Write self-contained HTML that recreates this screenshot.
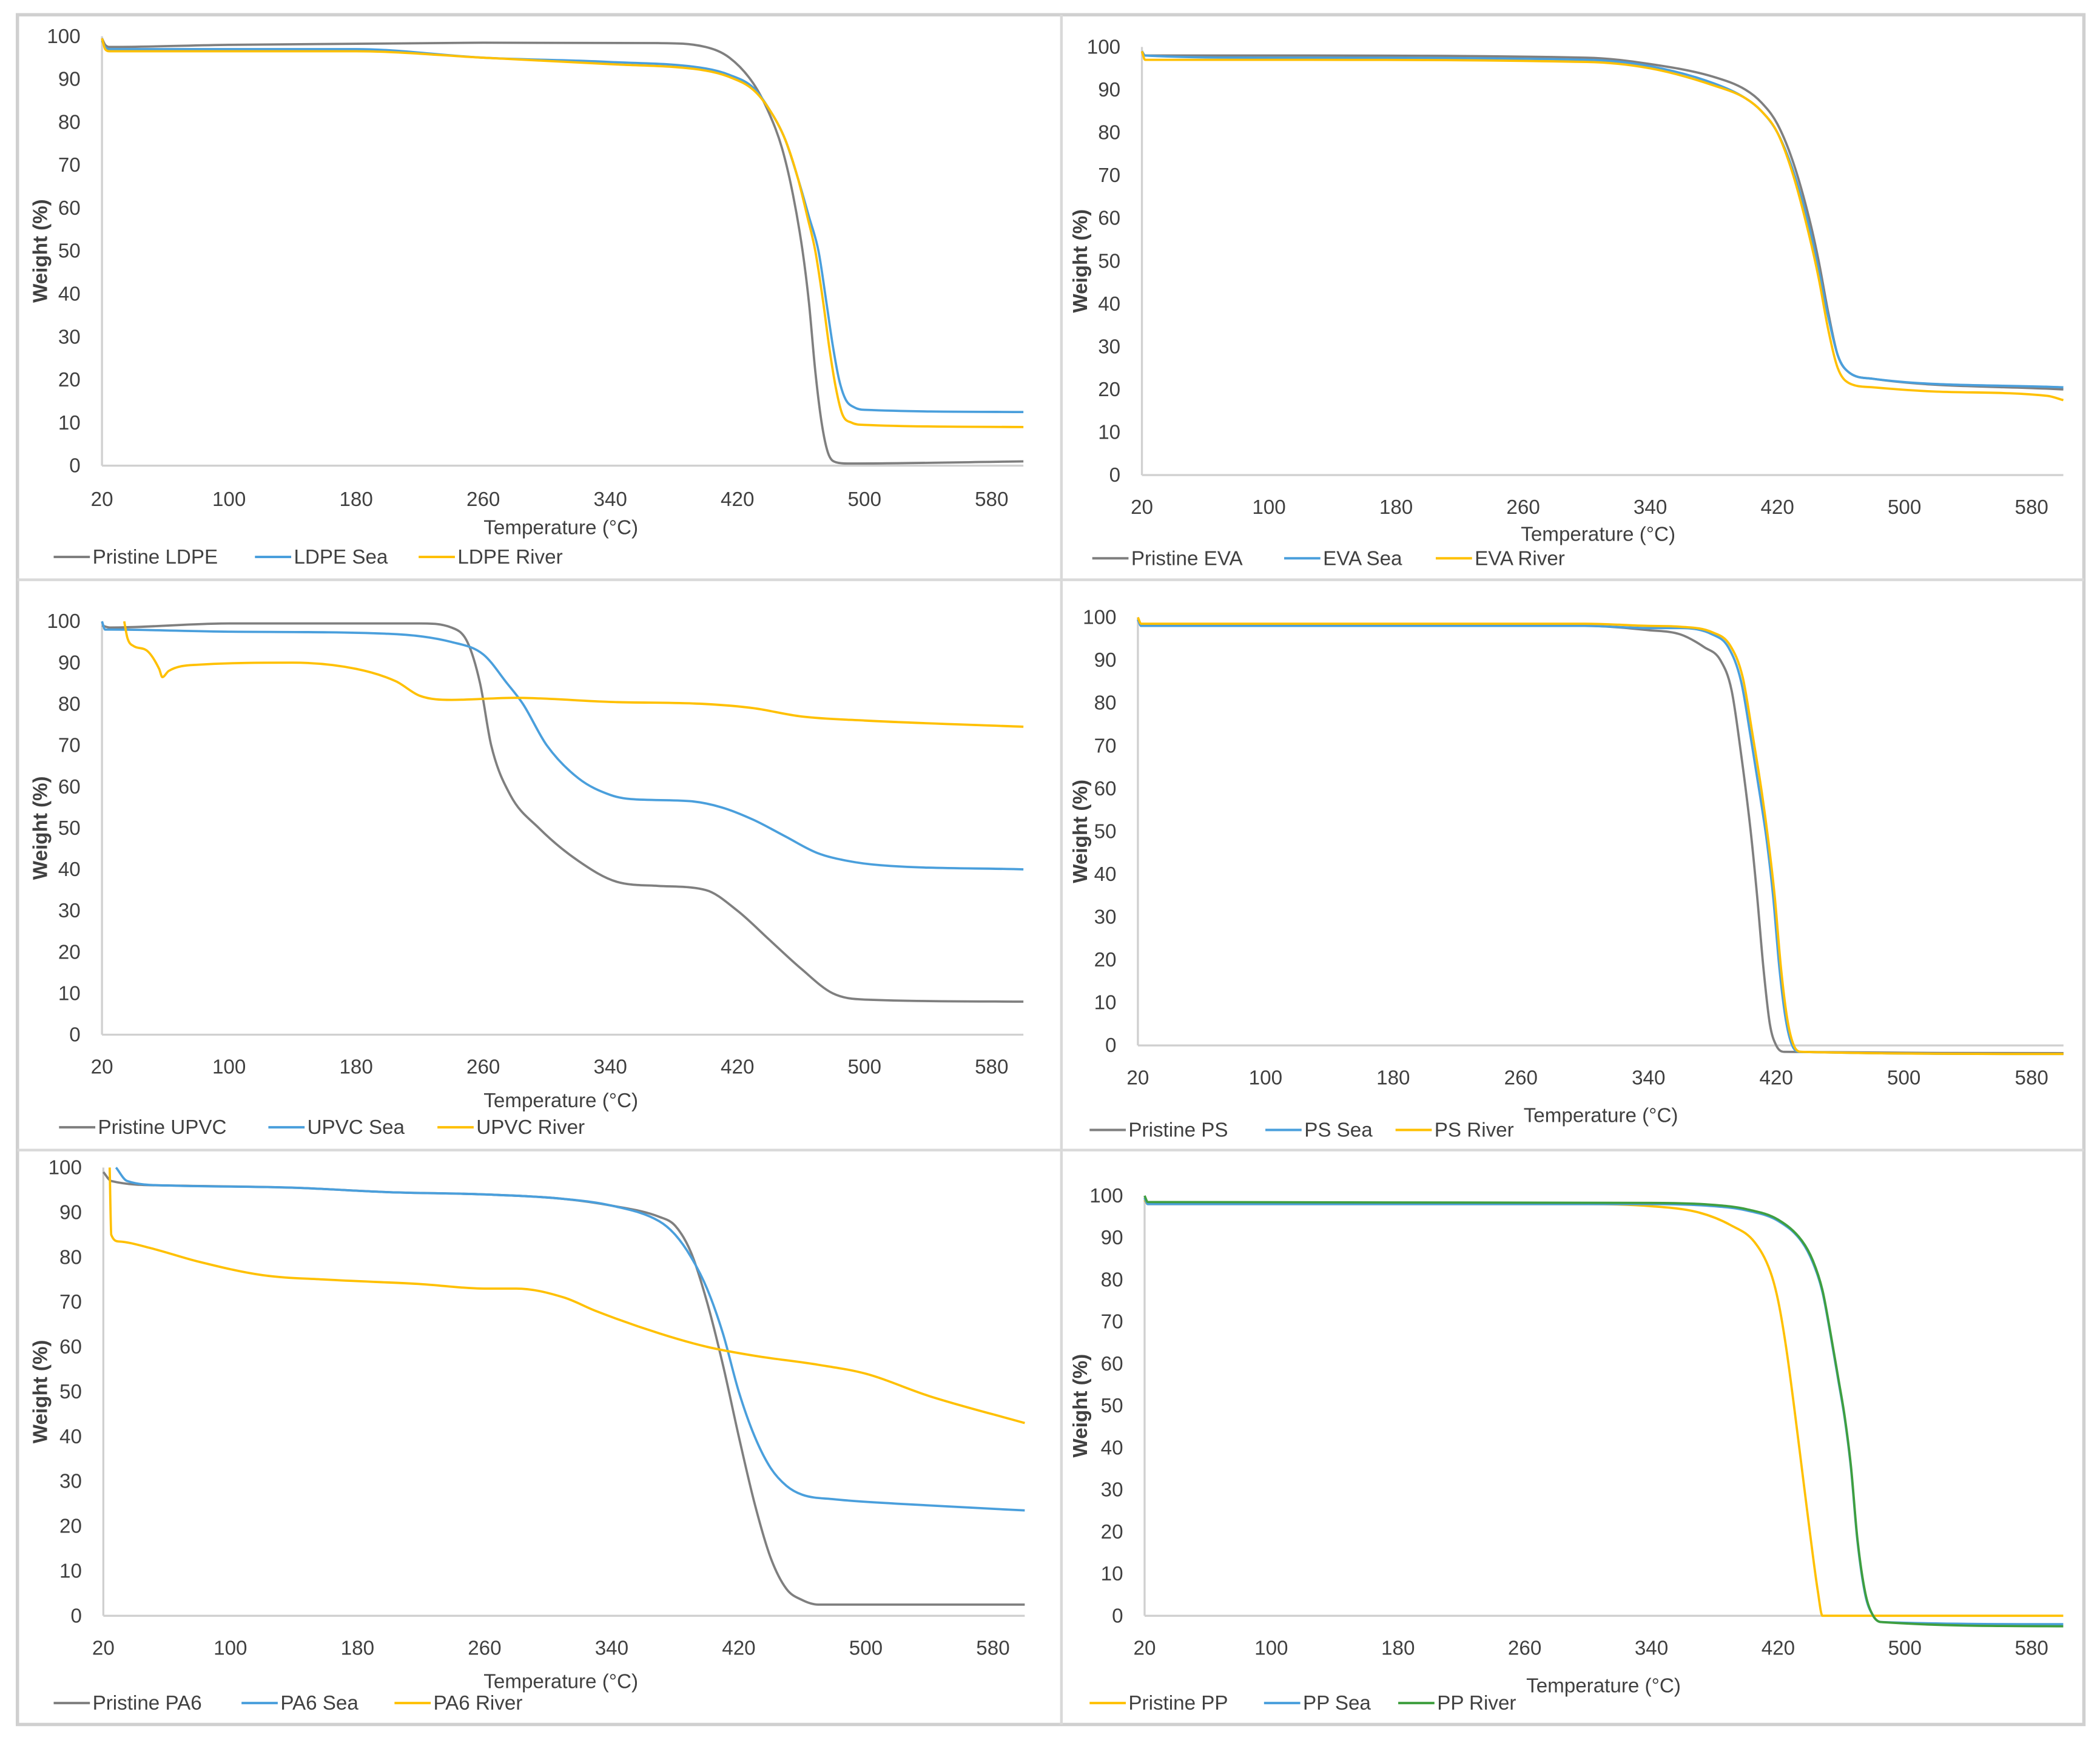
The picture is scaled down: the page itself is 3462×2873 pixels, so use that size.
<!DOCTYPE html>
<html><head><meta charset="utf-8"><style>
html,body{margin:0;padding:0;background:#fff;}
svg{display:block;}
text{font-family:"Liberation Sans Narrow","Liberation Sans",sans-serif;fill:#404040;}
</style></head><body>
<svg id="fig" width="3462" height="2873" viewBox="0 0 1565 1298.8" preserveAspectRatio="none" xmlns="http://www.w3.org/2000/svg">
<rect x="0" y="0" width="1565" height="1298.8" fill="#fff"/>
<rect x="13" y="11" width="1540" height="1274" fill="none" stroke="#d0d0d0" stroke-width="2.5"/>
<line x1="791" y1="11" x2="791" y2="1285" stroke="#d9d9d9" stroke-width="2"/>
<line x1="13" y1="432" x2="1553" y2="432" stroke="#d9d9d9" stroke-width="2"/>
<line x1="13" y1="857" x2="1553" y2="857" stroke="#d9d9d9" stroke-width="2"/>
</svg>
<script>
// ---- data (Temperature °C, Weight %) ----
const xTicks=[20,100,180,260,340,420,500,580];
const yTicks=[0,10,20,30,40,50,60,70,80,90,100];

const ldpePristineT=[20,22,25,100,260,370,400,415,430,440,448,455,461,465,469,473,477,482,490,600];
const ldpePristineW=[99.5,98,97.5,98,98.5,98.4,97.5,95,89,82,74,63,50,38,22,10,3,0.8,0.5,1];
const ldpeSeaT=[20,22,25,180,260,340,400,415,430,440,450,458,465,471,476,480,484,488,494,500,600];
const ldpeSeaW=[99,97.5,97,97,95,94,92.5,91,88,83,76,67,58,50,38,28,20,15.5,13.5,13,12.5];
const ldpeRiverT=[20,22,25,180,260,340,400,415,430,440,450,458,464,469,474,478,482,486,492,500,600];
const ldpeRiverW=[99.5,97,96.5,96.5,95,93.5,92,90.5,87.5,83,76,67,58,50,38,27,18,12,10,9.5,9];

const evaPristineT=[20,22,100,300,340,380,400,410,420,430,440,446,452,458,465,480,600];
const evaPristineW=[99,98,98,97.5,96,93,90,87,82,73,60,50,38,28,24,22.5,20];
const evaSeaT=[20,22,100,300,340,380,400,410,420,430,440,446,452,458,465,480,600];
const evaSeaW=[99,98,97.5,97,95.5,91.5,88,85,80,71,58,48,37,28,24,22.5,20.5];
const evaRiverT=[20,22,100,300,340,380,400,410,420,430,440,446,452,458,465,480,520,590,600];
const evaRiverW=[99,97,97,96.5,95,91,88,85,80,70,56,46,34,25,21.5,20.5,19.5,18.5,17.5];

const upvcPristineT=[20,25,100,220,240,250,258,265,277,295,320,344,370,400,420,440,460,480,500,600];
const upvcPristineW=[99,98.5,99.5,99.5,98.5,95,85,70,58,50,42,37,36,35,30,23,16,10,8.5,8];
const upvcSeaT=[20,22,25,100,200,240,260,275,285,300,320,340,353,390,410,430,450,470,490,510,600];
const upvcSeaW=[100,98,98,97.5,97,95,92,85,80,70,62,58,57,56.5,55,52,48,44,42,41,40];
const upvcRiverT=[34,36,40,48,56,58,62,80,140,180,205,220,240,280,340,400,430,460,500,600];
const upvcRiverW=[100,96,94,93,88.5,86.5,88,89.5,90,88.5,85.5,82,81,81.5,80.5,80,79,77,76,74.5];

const psPristineT=[20,22,300,340,360,375,385,392,398,404,408,412,416,420,425,600];
const psPristineW=[99.5,98,98,97,96,93,90,83,68,50,35,18,5,0,-1.5,-1.8];
const psSeaT=[20,22,300,340,360,380,390,398,404,410,414,418,422,426,430,435,600];
const psSeaW=[99.5,98,98,97.5,97.5,96,93,85,72,58,48,35,18,6,0,-1.5,-2];
const psRiverT=[20,22,300,340,360,380,391,399,405,411,415,419,423,427,431,436,600];
const psRiverW=[100,98.5,98.5,98,97.8,96.5,93.5,86,73,59,48,35,18,6,0,-1.5,-2];

const pa6PristineT=[20,25,60,140,200,260,310,340,370,380,390,400,410,420,430,440,450,460,470,500,600];
const pa6PristineW=[99,97,96,95.5,94.5,94,93,91.5,89,87,81,70,56,40,25,13,6,3.5,2.5,2.5,2.5];
const pa6SeaT=[28,35,60,140,200,260,310,340,370,380,390,400,410,420,430,440,450,460,480,520,600];
const pa6SeaW=[100,97,96,95.5,94.5,94,93,91.5,88,85,80,73,63,50,40,33,29,27,26,25,23.5];
const pa6RiverT=[24,25,30,50,80,120,160,220,260,280,310,330,370,400,430,470,500,540,600];
const pa6RiverW=[100,85,83.5,82,79,76,75,74,73,73,71,68,63,60,58,56,54,49,43];

const ppPristineT=[20,22,300,340,370,390,405,415,420,425,430,435,440,445,448,600];
const ppPristineW=[99,98,98,97.5,96,93,89,82,75,64,50,35,20,6,0,0];
const ppSeaT=[20,22,340,380,400,420,435,442,448,453,458,462,466,470,475,480,485,600];
const ppSeaW=[99.5,98,98,97.5,96.5,94,89,84,77,67,56,47,35,18,5,0,-1.5,-2];
const ppRiverT=[20,22,340,380,400,420,435,442,448,453,458,462,466,470,475,480,485,600];
const ppRiverW=[100,98.5,98.3,97.8,96.8,94.3,89.3,84.5,77.5,67.5,56.5,47.5,35.5,18.5,5.5,0,-1.5,-2.5];

const GRAY="#7f7f7f",BLUE="#4a9fdc",YEL="#ffc000",GRN="#3f9f3f";
const NS="http://www.w3.org/2000/svg";
const svg=document.getElementById('fig');

function mk(tag,attrs){const e=document.createElementNS(NS,tag);for(const k in attrs)e.setAttribute(k,attrs[k]);return e;}

// monotone cubic (Fritsch-Carlson) path through pixel points
function monoPath(P){
  const n=P.length;if(n<2)return '';
  const dx=[],dy=[],m=[];
  for(let i=0;i<n-1;i++){dx.push(P[i+1][0]-P[i][0]);dy.push(P[i+1][1]-P[i][1]);m.push(dx[i]?dy[i]/dx[i]:0);}
  const t=[m[0]];
  for(let i=1;i<n-1;i++){t.push(m[i-1]*m[i]<=0?0:(m[i-1]+m[i])/2);}
  t.push(m[n-2]);
  for(let i=0;i<n-1;i++){
    if(m[i]===0){t[i]=0;t[i+1]=0;continue;}
    const a=t[i]/m[i],b=t[i+1]/m[i],s=a*a+b*b;
    if(s>9){const k=3/Math.sqrt(s);t[i]=k*a*m[i];t[i+1]=k*b*m[i];}
  }
  let d='M'+P[0][0].toFixed(2)+','+P[0][1].toFixed(2);
  for(let i=0;i<n-1;i++){
    const h=dx[i]/3;
    d+=' C'+(P[i][0]+h).toFixed(2)+','+(P[i][1]+t[i]*h).toFixed(2)+' '+(P[i+1][0]-h).toFixed(2)+','+(P[i+1][1]-t[i+1]*h).toFixed(2)+' '+P[i+1][0].toFixed(2)+','+P[i+1][1].toFixed(2);
  }
  return d;
}

const panels=[
 {id:'ldpe',x0:76,x580:739,y0:347,y100:27,xl:372,tx:418,ty:393,ly:415,ylx:30,
  series:[['Pristine LDPE',ldpePristineT,ldpePristineW,GRAY,40],['LDPE Sea',ldpeSeaT,ldpeSeaW,BLUE,190],['LDPE River',ldpeRiverT,ldpeRiverW,YEL,312]]},
 {id:'eva',x0:851,x580:1514,y0:354,y100:35,xl:378,tx:1191,ty:398,ly:416,ylx:805,
  series:[['Pristine EVA',evaPristineT,evaPristineW,GRAY,814],['EVA Sea',evaSeaT,evaSeaW,BLUE,957],['EVA River',evaRiverT,evaRiverW,YEL,1070]]},
 {id:'upvc',x0:76,x580:739,y0:771,y100:463,xl:795,tx:418,ty:820,ly:840,ylx:30,
  series:[['Pristine UPVC',upvcPristineT,upvcPristineW,GRAY,44],['UPVC Sea',upvcSeaT,upvcSeaW,BLUE,200],['UPVC River',upvcRiverT,upvcRiverW,YEL,326]]},
 {id:'ps',x0:848,x580:1514,y0:779,y100:460,xl:803,tx:1193,ty:831,ly:842,ylx:805,
  series:[['Pristine PS',psPristineT,psPristineW,GRAY,812],['PS Sea',psSeaT,psSeaW,BLUE,943],['PS River',psRiverT,psRiverW,YEL,1040]]},
 {id:'pa6',x0:77,x580:740,y0:1204,y100:870,xl:1228,tx:418,ty:1253,ly:1269,ylx:30,
  series:[['Pristine PA6',pa6PristineT,pa6PristineW,GRAY,40],['PA6 Sea',pa6SeaT,pa6SeaW,BLUE,180],['PA6 River',pa6RiverT,pa6RiverW,YEL,294]]},
 {id:'pp',x0:853,x580:1514,y0:1204,y100:891,xl:1228,tx:1195,ty:1256,ly:1269,ylx:805,
  series:[['Pristine PP',ppPristineT,ppPristineW,YEL,812],['PP Sea',ppSeaT,ppSeaW,BLUE,942],['PP River',ppRiverT,ppRiverW,GRN,1042]]}
];

panels.forEach(p=>{
  const xs=T=>p.x0+(T-20)*(p.x580-p.x0)/560;
  const ys=W=>p.y0-(W)*(p.y0-p.y100)/100;
  const g=mk('g',{});
  
  
  svg.appendChild(g);
  const ax=mk('line',{x1:xs(20),y1:ys(0),x2:xs(600),y2:ys(0),stroke:'#d0d0d0','stroke-width':1.5});
  
  
  g.appendChild(ax);
  const ay=mk('line',{x1:xs(20),y1:ys(0),x2:xs(20),y2:ys(100),stroke:'#d0d0d0','stroke-width':1.5});
  
  
  g.appendChild(ay);
  yTicks.forEach(v=>{
    const t=mk('text',{x:xs(20)-16,y:ys(v)+5,'text-anchor':'end','font-size':15});
    
    
    t.textContent=v;g.appendChild(t);
  });
  xTicks.forEach(v=>{
    const t=mk('text',{x:xs(v),y:p.xl+5,'text-anchor':'middle','font-size':15});
    
    
    t.textContent=v;g.appendChild(t);
  });
  const xt=mk('text',{x:p.tx,y:p.ty+5,'text-anchor':'middle','font-size':15});
  
  
  xt.textContent='Temperature (°C)';g.appendChild(xt);
  const cy=(ys(0)+ys(100))/2;
  const yt=mk('text',{x:p.ylx,y:cy,'text-anchor':'middle','font-size':15,'font-weight':'bold','font-family':'Liberation Sans, sans-serif',transform:`rotate(-90 ${p.ylx} ${cy})`,dy:5});
  
  
  yt.textContent='Weight (%)';g.appendChild(yt);
  p.series.forEach(s=>{
    const [name,T,W,col,lx]=s;
    const P=T.map((t,i)=>[xs(t),ys(W[i])]);
    const pl=mk('path',{d:monoPath(P),fill:'none',stroke:col,'stroke-width':1.7,'stroke-linejoin':'round'});
    
    
    g.appendChild(pl);
    const ll=mk('line',{x1:lx,y1:p.ly,x2:lx+27,y2:p.ly,stroke:col,'stroke-width':1.8});
    
    
    g.appendChild(ll);
    const lt=mk('text',{x:lx+29,y:p.ly+5,'font-size':15});
    
    
    lt.textContent=name;g.appendChild(lt);
  });
});
</script>
</body></html>
